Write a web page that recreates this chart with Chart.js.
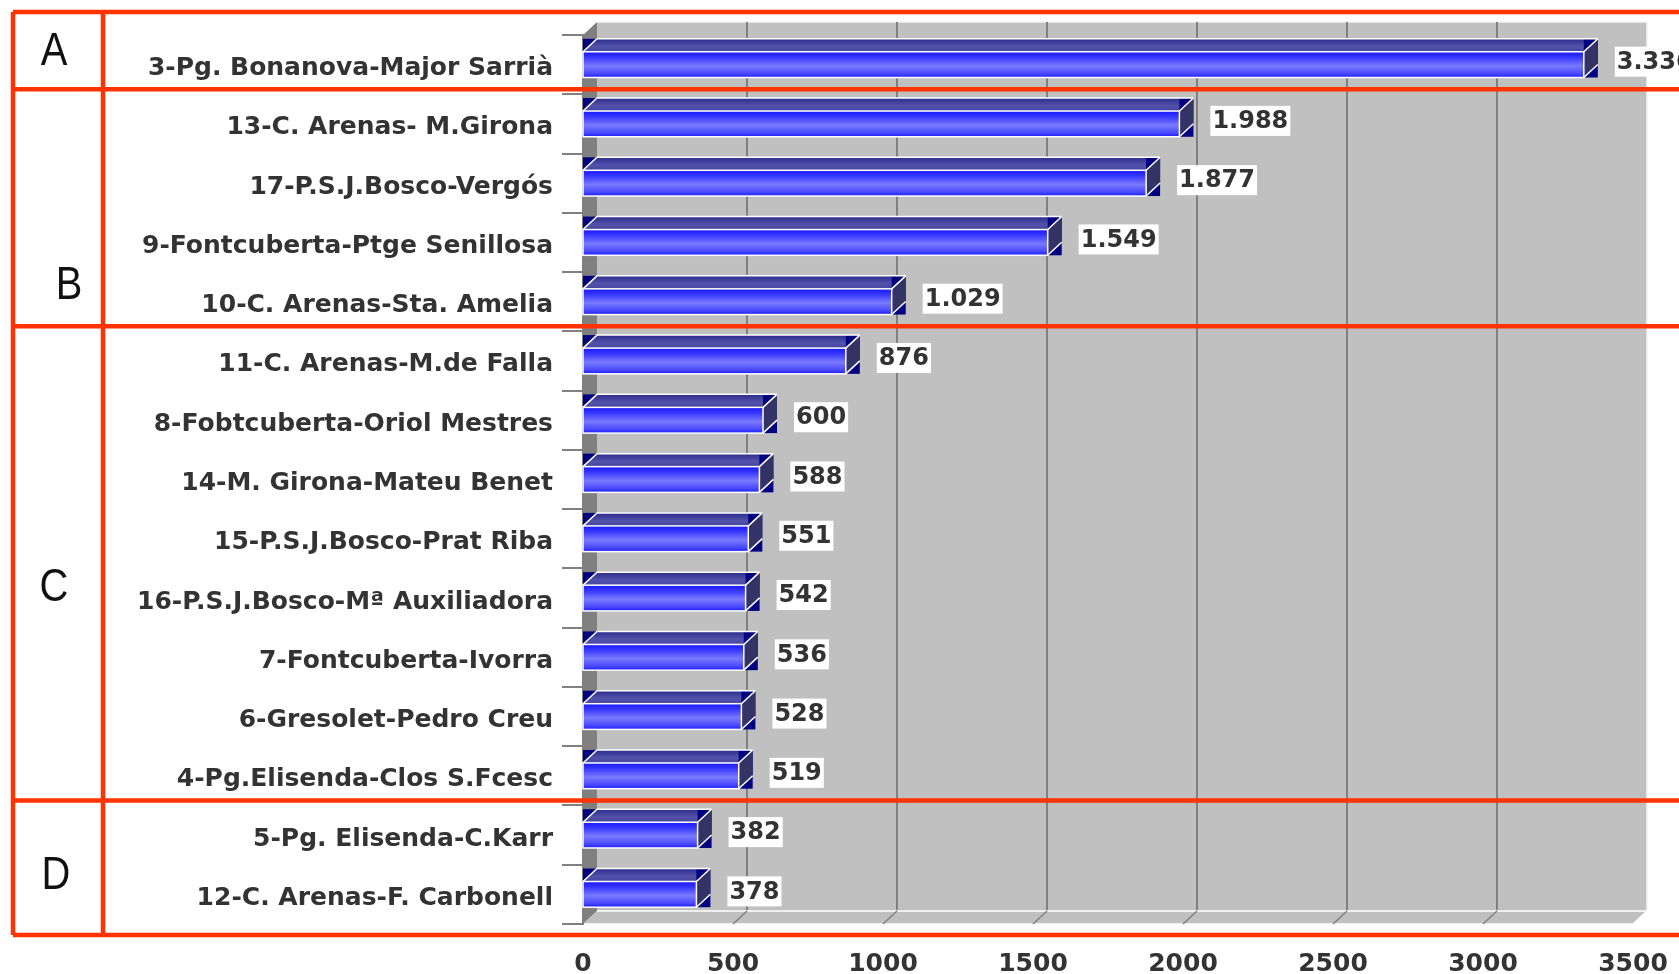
<!DOCTYPE html>
<html>
<head>
<meta charset="utf-8">
<script src="https://cdn.jsdelivr.net/npm/chart.js@4.4.0/dist/chart.umd.min.js"></script>
<style>
  html, body { margin: 0; padding: 0; background: #fff; }
</style>
</head>
<body>
<canvas id="tramos-chart" width="1679" height="974"></canvas>
<script>
// datos
var tramos = [
  '3-Pg. Bonanova-Major Sarrià',
  '13-C. Arenas- M.Girona',
  '17-P.S.J.Bosco-Vergós',
  '9-Fontcuberta-Ptge Senillosa',
  '10-C. Arenas-Sta. Amelia',
  '11-C. Arenas-M.de Falla',
  '8-Fobtcuberta-Oriol Mestres',
  '14-M. Girona-Mateu Benet',
  '15-P.S.J.Bosco-Prat Riba',
  '16-P.S.J.Bosco-Mª Auxiliadora',
  '7-Fontcuberta-Ivorra',
  '6-Gresolet-Pedro Creu',
  '4-Pg.Elisenda-Clos S.Fcesc',
  '5-Pg. Elisenda-C.Karr',
  '12-C. Arenas-F. Carbonell'
];
var vehiculos = [3336, 1988, 1877, 1549, 1029, 876, 600, 588, 551, 542, 536, 528, 519, 382, 378];
var grupos = ['A', 'B', 'C', 'D'];
var inicioGrupo = [0, 1, 5, 13];   // primera categoria de cada grupo
var ejeMin = 0, ejeMax = 3500, ejePaso = 500;

// aspecto (no son datos)
var DX = 14, DY = 13;               // profundidad 3D
var FONT = 'DejaVu Sans';
var ROJO = '#ff3300';
var letraPos = [[54, -0.22], [69, 3.73], [54, 8.83], [56, 13.69]]; // x px, y en unidades de categoria

function fmt(v) {
  if (v < 1000) return String(v);
  return Math.floor(v / 1000) + '.' + String(v % 1000).padStart(3, '0');
}

// paredes, suelo y rejilla del fondo
var paredes = {
  id: 'paredes',
  beforeDraw: function(chart) {
    var c = chart.ctx, a = chart.chartArea, xs = chart.scales.x;
    c.save();
    // pared del fondo
    c.fillStyle = '#c0c0c0';
    c.fillRect(a.left + DX, a.top - DY, a.right - a.left, a.bottom - a.top);
    c.strokeStyle = '#f4f4f4';
    c.lineWidth = 1.5;
    c.beginPath();
    c.moveTo(a.left + DX, a.top - DY);
    c.lineTo(a.right + DX, a.top - DY);
    c.lineTo(a.right + DX, a.bottom - DY);
    c.stroke();
    // rejilla vertical
    c.strokeStyle = '#808080';
    c.lineWidth = 2;
    for (var t = ejeMin + ejePaso; t < ejeMax; t += ejePaso) {
      var px = xs.getPixelForValue(t);
      c.beginPath();
      c.moveTo(px + DX, a.top - DY);
      c.lineTo(px + DX, a.bottom - DY);
      c.stroke();
    }
    // pared izquierda
    c.fillStyle = '#808080';
    c.beginPath();
    c.moveTo(a.left, a.top);
    c.lineTo(a.left + DX, a.top - DY);
    c.lineTo(a.left + DX, a.bottom - DY);
    c.lineTo(a.left, a.bottom);
    c.closePath();
    c.fill();
    // suelo
    c.fillStyle = '#c0c0c0';
    c.beginPath();
    c.moveTo(a.left, a.bottom);
    c.lineTo(a.left + DX, a.bottom - DY);
    c.lineTo(a.right + DX, a.bottom - DY);
    c.lineTo(a.right, a.bottom);
    c.closePath();
    c.fill();
    c.strokeStyle = '#ffffff';
    c.lineWidth = 1.5;
    c.beginPath();
    c.moveTo(a.left + DX, a.bottom - DY);
    c.lineTo(a.right + DX, a.bottom - DY);
    c.lineTo(a.right, a.bottom);
    c.lineTo(a.left, a.bottom);
    c.stroke();
    c.strokeStyle = '#808080';
    for (var t2 = ejeMin + ejePaso; t2 < ejeMax; t2 += ejePaso) {
      var p2 = xs.getPixelForValue(t2);
      c.beginPath();
      c.moveTo(p2, a.bottom);
      c.lineTo(p2 + DX, a.bottom - DY);
      c.stroke();
    }
    c.restore();
  }
};

// barras 3D y etiquetas de valor
var barras3d = {
  id: 'barras3d',
  afterDatasetsDraw: function(chart) {
    var c = chart.ctx;
    var meta = chart.getDatasetMeta(0);
    c.save();
    meta.data.forEach(function(el, i) {
      var p = el.getProps(['x', 'y', 'base', 'height'], true);
      var x0 = p.base, x1 = p.x, yt = p.y - p.height / 2, yb = p.y + p.height / 2;

      // fondos oscuros de los laterales
      c.fillStyle = '#000080';
      c.fillRect(x0, yt - DY, x1 + DX - x0, DY);
      c.fillRect(x1, yt, DX, p.height);

      // cara superior
      var gt = c.createLinearGradient(0, yt - DY, 0, yt);
      gt.addColorStop(0, '#2c2c8c');
      gt.addColorStop(0.6, '#5252aa');
      gt.addColorStop(1, '#4646a2');
      c.fillStyle = gt;
      c.beginPath();
      c.moveTo(x0, yt);
      c.lineTo(x0 + DX, yt - DY);
      c.lineTo(x1, yt - DY);
      c.lineTo(x1, yt);
      c.closePath();
      c.fill();

      // cara lateral
      c.fillStyle = '#333366';
      c.beginPath();
      c.moveTo(x1, yt);
      c.lineTo(x1 + DX, yt - DY);
      c.lineTo(x1 + DX, yb - DY);
      c.lineTo(x1, yb);
      c.closePath();
      c.fill();

      // cara frontal
      var gf = c.createLinearGradient(0, yt, 0, yb);
      gf.addColorStop(0, '#1818ff');
      gf.addColorStop(0.2, '#3434ff');
      gf.addColorStop(0.55, '#7a7aff');
      gf.addColorStop(0.85, '#4848ff');
      gf.addColorStop(1, '#1c1cff');
      c.fillStyle = gf;
      c.fillRect(x0, yt, x1 - x0, p.height);

      // aristas blancas
      c.strokeStyle = '#ffffff';
      c.lineWidth = 1.5;
      c.strokeRect(x0, yt, x1 - x0, p.height);
      c.beginPath();
      c.moveTo(x0, yt);
      c.lineTo(x0 + DX, yt - DY);
      c.lineTo(x1 + DX, yt - DY);
      c.moveTo(x1, yt);
      c.lineTo(x1 + DX, yt - DY);
      c.moveTo(x1, yb);
      c.lineTo(x1 + DX, yb - DY);
      c.stroke();

      // etiqueta
      var txt = fmt(vehiculos[i]);
      c.font = 'bold 24px "' + FONT + '"';
      var w = c.measureText(txt).width;
      var bx = x1 + DX + 17, by = p.y - 3;
      c.fillStyle = '#ffffff';
      c.fillRect(bx, by - 15, w + 4, 30);
      c.fillStyle = '#333333';
      c.textBaseline = 'middle';
      c.textAlign = 'left';
      c.fillText(txt, bx + 2, by + 1);
    });
    c.restore();
  }
};

// recuadros rojos de grupos
var cajasGrupo = {
  id: 'cajasGrupo',
  afterDraw: function(chart) {
    var c = chart.ctx, a = chart.chartArea, ys = chart.scales.y;
    var xL = 13, xM = 103, xR = chart.width;
    var top = a.top - 23, bottom = a.bottom + 11;
    c.save();
    c.strokeStyle = ROJO;
    c.lineWidth = 4.5;
    c.beginPath();
    c.moveTo(xL, top); c.lineTo(xR, top);
    c.moveTo(xL, bottom); c.lineTo(xR, bottom);
    c.moveTo(xL, top); c.lineTo(xL, bottom);
    c.moveTo(xM, top); c.lineTo(xM, bottom);
    inicioGrupo.forEach(function(g) {
      if (g === 0) return;
      var yy = ys.getPixelForValue(g - 0.5) - 5;
      c.moveTo(xL, yy); c.lineTo(xR, yy);
    });
    c.stroke();

    c.fillStyle = '#111111';
    c.textAlign = 'center';
    c.textBaseline = 'middle';
    grupos.forEach(function(letra, k) {
      var lx = letraPos[k][0], ly = ys.getPixelForValue(letraPos[k][1]);
      c.save();
      c.translate(lx, ly);
      c.scale(0.85, 1);
      c.font = '300 47px "Liberation Sans"';
      c.fillText(letra, 0, 0);
      c.restore();
    });
    c.restore();
  }
};

var ctx = document.getElementById('tramos-chart').getContext('2d');

var myChart = new Chart(ctx, {
  type: 'bar',
  data: {
    labels: tramos,
    datasets: [{
      label: 'Tramos',
      data: vehiculos,
      backgroundColor: '#4848ff',
      borderWidth: 0,
      barPercentage: 0.434,
      categoryPercentage: 1
    }]
  },
  options: {
    responsive: false,
    animation: false,
    events: [],
    indexAxis: 'y',
    layout: { padding: { top: 35, right: 46, left: 0, bottom: 0 } },
    plugins: {
      legend: { display: false },
      tooltip: { enabled: false }
    },
    scales: {
      x: {
        min: ejeMin,
        max: ejeMax,
        ticks: {
          stepSize: ejePaso,
          padding: 25,
          color: '#333333',
          font: { family: FONT, weight: 'bold', size: 25 },
          callback: function(v) { return String(v); }
        },
        grid: { display: false, drawTicks: false },
        border: { display: false },
        afterFit: function(s) {
          s.height = 50;
          s.paddingLeft = 0;
          s.paddingRight = 0;
        }
      },
      y: {
        ticks: {
          padding: 9,
          labelOffset: 4,
          autoSkip: false,
          color: '#333333',
          font: { family: FONT, weight: 'bold', size: 25 }
        },
        grid: {
          offset: true,
          drawOnChartArea: false,
          drawTicks: true,
          tickLength: 21,
          color: '#808080',
          lineWidth: 2
        },
        border: { display: true, color: '#808080', width: 2 },
        afterFit: function(s) { s.width = 583; }
      }
    }
  },
  plugins: [paredes, barras3d, cajasGrupo]
});
</script>
</body>
</html>
